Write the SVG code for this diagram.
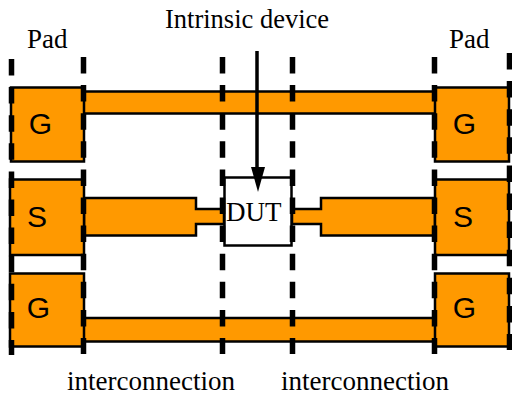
<svg xmlns="http://www.w3.org/2000/svg" width="512" height="401" viewBox="0 0 512 401">
<style>
.o{fill:#ff9900;stroke:#000;stroke-width:2.5}
.d{stroke:#000;stroke-width:5.5;stroke-dasharray:16.5 11.6;fill:none}
.t{font-family:"Liberation Serif",serif;font-size:27px;fill:#000}
.p{font-family:"Liberation Sans",sans-serif;font-size:30px;fill:#000;text-anchor:middle}
</style>
<rect width="512" height="401" fill="#fff"/>
<g id="connectors">
<rect class="o" x="83" y="91.500" width="353" height="22"/>
<rect class="o" x="83" y="318" width="353" height="23.500"/>
<path class="o" d="M84 198H196V209H224V224H196V235.500H84Z"/>
<path class="o" d="M435 198H321V209H292V224H321V235.500H435Z"/>
</g>
<g id="pad-g-tl"><rect class="o" x="11" y="87.500" width="73" height="74"/><text class="p" x="40.500" y="134">G</text></g>
<g id="pad-s-l"><rect class="o" x="10" y="179.500" width="74" height="75.500"/><text class="p" x="37" y="226.500">S</text></g>
<g id="pad-g-bl"><rect class="o" x="10" y="273.500" width="74" height="73"/><text class="p" x="38.500" y="317.500">G</text></g>
<g id="pad-g-tr"><rect class="o" x="435" y="87.500" width="74" height="74"/><text class="p" x="464.500" y="134">G</text></g>
<g id="pad-s-r"><rect class="o" x="435" y="179.500" width="74" height="75.500"/><text class="p" x="463" y="226.500">S</text></g>
<g id="pad-g-br"><rect class="o" x="435" y="273.500" width="74" height="73"/><text class="p" x="464.500" y="317.500">G</text></g>
<g id="dut"><rect x="224.500" y="177.500" width="67" height="68" fill="#fff" stroke="#000" stroke-width="2.500"/><text class="t" x="226" y="220.500">DUT</text></g>
<g id="guides">
<line class="d" x1="11.500" y1="59" x2="11.500" y2="355"/>
<line class="d" x1="83.500" y1="57" x2="83.500" y2="354"/>
<line class="d" x1="222.500" y1="57" x2="222.500" y2="354"/>
<line class="d" x1="292.500" y1="57" x2="292.500" y2="354"/>
<line class="d" x1="434.500" y1="57" x2="434.500" y2="354"/>
<line class="d" x1="509.500" y1="53" x2="509.500" y2="350"/>
</g>
<g id="arrow"><line x1="257" y1="51" x2="257" y2="170" stroke="#000" stroke-width="3.500"/><polygon points="251,167 265,167 258,192" fill="#000"/></g>
<g id="labels">
<text class="t" x="27" y="48">Pad</text>
<text class="t" x="449" y="48">Pad</text>
<text class="t" x="165" y="28" font-size="26.500" style="font-size:26.500px">Intrinsic device</text>
<text class="t" x="67" y="390">interconnection</text>
<text class="t" x="281" y="390">interconnection</text>
</g>
</svg>
